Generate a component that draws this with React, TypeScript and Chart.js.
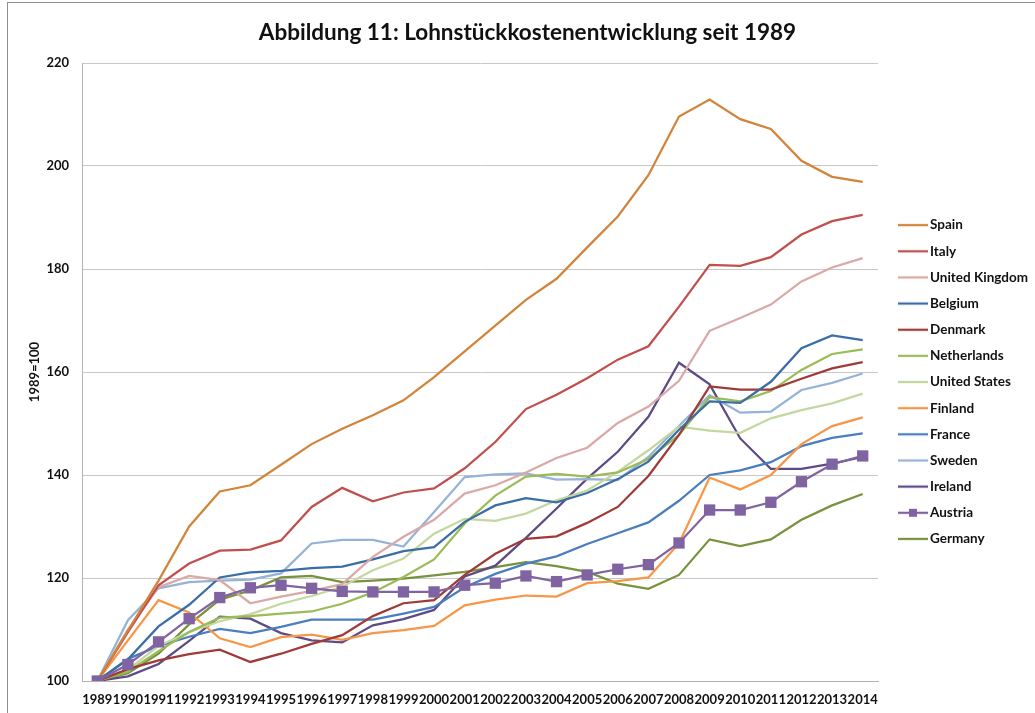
import React, { useEffect, useRef } from 'react';
import { Chart, registerables } from 'chart.js';

Chart.register(...registerables);

const years = ['1989', '1990', '1991', '1992', '1993', '1994', '1995', '1996', '1997', '1998', '1999', '2000', '2001', '2002', '2003', '2004', '2005', '2006', '2007', '2008', '2009', '2010', '2011', '2012', '2013', '2014'];

const spain = [100, 109.8, 119.5, 130, 136.8, 138, 142, 146, 149, 151.6, 154.5, 159, 164, 169, 174, 178.1, 184.2, 190.2, 198.2, 209.6, 212.9, 209.1, 207.2, 201, 197.9, 196.9];
const italy = [100, 109.5, 118.6, 122.8, 125.3, 125.5, 127.3, 133.8, 137.5, 134.9, 136.6, 137.4, 141.3, 146.4, 152.8, 155.6, 158.8, 162.4, 165, 172.7, 180.8, 180.6, 182.3, 186.7, 189.3, 190.5];
const unitedKingdom = [100, 110, 118.2, 120.4, 119.6, 115.1, 116.4, 117.5, 118.8, 124.1, 128, 131.3, 136.4, 138, 140.5, 143.3, 145.3, 150.1, 153.3, 158.3, 168, 170.5, 173.1, 177.6, 180.3, 182.1];
const belgium = [100, 104.2, 110.6, 114.8, 120.1, 121.1, 121.4, 121.9, 122.2, 123.6, 125.2, 126, 130.9, 134.1, 135.5, 134.7, 136.5, 139.2, 142.6, 148.8, 154.3, 154, 158.1, 164.6, 167.1, 166.2];
const denmark = [100, 102.3, 104, 105.2, 106.1, 103.7, 105.3, 107.2, 108.9, 112.6, 115.1, 115.7, 120.6, 124.7, 127.6, 128.1, 130.7, 133.8, 139.8, 147.8, 157.2, 156.6, 156.6, 158.7, 160.7, 161.9];
const netherlands = [100, 101.8, 105.8, 109.5, 112.3, 112.6, 113.1, 113.5, 115, 117.2, 120.2, 123.6, 130.6, 136, 139.7, 140.2, 139.7, 140.5, 143.1, 147.8, 155.1, 154.3, 156.3, 160.4, 163.5, 164.4];
const unitedStates = [100, 102.2, 106.8, 109.5, 111.6, 113, 115, 116.5, 118.3, 121.5, 123.8, 128.6, 131.5, 131.1, 132.5, 135.1, 137, 140.6, 144.8, 149.4, 148.6, 148.2, 151, 152.6, 153.9, 155.8];
const finland = [100, 107.9, 115.7, 113.3, 108.3, 106.6, 108.5, 109, 108, 109.3, 109.9, 110.7, 114.7, 115.8, 116.6, 116.4, 119, 119.4, 120.1, 126.7, 139.5, 137.2, 140, 146, 149.5, 151.2];
const france = [100, 104.3, 106.8, 108.6, 110.1, 109.3, 110.5, 111.9, 111.9, 111.9, 113.1, 114.4, 118.2, 120.8, 122.8, 124.2, 126.6, 128.7, 130.8, 135, 140, 140.9, 142.5, 145.6, 147.2, 148.1];
const sweden = [100, 111.8, 118, 119.2, 119.5, 119.7, 120.9, 126.7, 127.4, 127.4, 126.1, 132.8, 139.6, 140.1, 140.3, 139.1, 139.2, 139, 143.5, 149.5, 155.5, 152.1, 152.3, 156.5, 157.9, 159.7];
const ireland = [100, 100.9, 103.3, 107.8, 112.5, 112.1, 109.3, 107.9, 107.5, 110.8, 112, 113.8, 120.3, 122.4, 127.8, 133.5, 139.3, 144.5, 151.3, 161.8, 157.6, 147.1, 141.2, 141.2, 142.2, 143.5];
const austria = [100, 103.2, 107.6, 112.1, 116.2, 118.1, 118.6, 118, 117.4, 117.3, 117.3, 117.3, 118.6, 119, 120.4, 119.3, 120.6, 121.7, 122.6, 126.8, 133.2, 133.2, 134.7, 138.7, 142.1, 143.7];
const germany = [100, 101.5, 105.3, 111, 115.8, 117.6, 120.1, 120.4, 119.2, 119.5, 119.9, 120.5, 121.2, 122.1, 123.1, 122.3, 121.2, 118.9, 117.9, 120.6, 127.5, 126.2, 127.5, 131.3, 134.1, 136.3];

const seriesNames = ['Spain', 'Italy', 'United Kingdom', 'Belgium', 'Denmark', 'Netherlands', 'United States', 'Finland', 'France', 'Sweden', 'Ireland', 'Austria', 'Germany'];
const seriesValues = [spain, italy, unitedKingdom, belgium, denmark, netherlands, unitedStates, finland, france, sweden, ireland, austria, germany];
const seriesColors = ['#D2843A', '#C0504D', '#DAA8A7', '#3A6EA5', '#A03A37', '#9BBB59', '#C4D79E', '#F79646', '#4A7EBF', '#95B3D7', '#5E4B86', '#8064A2', '#77933C'];
const markerSeries = 'Austria';

const yTicks = [100, 120, 140, 160, 180, 200, 220];

const FONT = 'Lato, "Open Sans", "DejaVu Sans", sans-serif';

function makeLegendSample(color: string, marker: boolean): HTMLCanvasElement {
  const c = document.createElement('canvas');
  c.width = 46;
  c.height = 12;
  const ctx = c.getContext('2d')!;
  ctx.strokeStyle = color;
  ctx.lineWidth = 2.25;
  ctx.beginPath();
  ctx.moveTo(14, 6);
  ctx.lineTo(44, 6);
  ctx.stroke();
  if (marker) {
    ctx.fillStyle = color;
    ctx.fillRect(25, 2, 8, 8);
  }
  return c;
}

const CANVAS_W = 1035;
const CANVAS_H = 713;
const AREA_LEFT = 82;
const AREA_RIGHT = 878;
const AREA_BOTTOM = 681;
const PAD_LEFT = 20;

export default function App() {
  const canvasRef = useRef<HTMLCanvasElement | null>(null);

  useEffect(() => {
    if (!canvasRef.current) return;
    const samples = seriesNames.map((n, i) => makeLegendSample(seriesColors[i], n === markerSeries));

    const legendWidthPlugin = {
      id: 'legendWidthFix',
      beforeLayout(chart: any) {
        const lg = chart.legend;
        if (lg && !lg.__patched) {
          const orig = lg.fit.bind(lg);
          lg.fit = function () {
            orig();
            this.width = CANVAS_W - AREA_RIGHT;
          };
          lg.__patched = true;
        }
      },
    };

    const datasets = seriesNames.map((name, i) => {
      const isMarker = name === markerSeries;
      return {
        label: name,
        data: seriesValues[i],
        borderColor: seriesColors[i],
        backgroundColor: seriesColors[i],
        borderWidth: 2.25,
        pointRadius: isMarker ? 8 : 0,
        pointHoverRadius: isMarker ? 8 : 0,
        pointStyle: 'rect',
        pointBackgroundColor: seriesColors[i],
        pointBorderColor: seriesColors[i],
        pointBorderWidth: 0,
        tension: 0,
        fill: false,
        order: isMarker ? -1 : 0,
      };
    });

    const chart = new Chart(canvasRef.current, {
      type: 'line',
      data: { labels: years, datasets },
      plugins: [legendWidthPlugin],
      options: {
        responsive: false,
        animation: false,
        events: [],
        layout: { padding: { left: PAD_LEFT, right: 0, top: 0, bottom: 0 } },
        plugins: {
          title: {
            display: true,
            text: 'Abbildung 11: Lohnstückkostenentwicklung seit 1989',
            color: '#111111',
            font: { family: FONT, size: 22.5, weight: 'bold' },
            padding: { top: 19.5, bottom: 16.5 },
          },
          legend: {
            display: true,
            position: 'right',
            align: 'center',
            fullSize: false,
            title: { display: true, text: '', padding: 0, font: { size: 16.67 } },
            labels: {
              usePointStyle: true,
              pointStyleWidth: 32.6,
              padding: 12.65,
              color: '#111111',
              font: { family: FONT, size: 13.5, weight: 'bold' },
              sort: (a: any, b: any) => a.datasetIndex - b.datasetIndex,
              generateLabels: (ch: any) => {
                const items = (Chart.defaults.plugins.legend.labels as any).generateLabels(ch);
                return items.map((it: any) => ({ ...it, pointStyle: samples[it.datasetIndex] }));
              },
            },
          },
          tooltip: { enabled: false },
        },
        scales: {
          x: {
            type: 'category',
            offset: true,
            grid: { display: true, color: 'rgba(0,0,0,0)', drawTicks: false },
            border: { display: true, color: '#B3B3B3', width: 1 },
            ticks: {
              autoSkip: false,
              maxRotation: 0,
              minRotation: 0,
              padding: 11,
              color: '#111111',
              font: { family: FONT, size: 13, weight: 'bold' },
            },
            afterFit: (scale: any) => {
              scale.height = CANVAS_H - AREA_BOTTOM;
            },
          },
          y: {
            min: 100,
            max: 220,
            afterBuildTicks: (scale: any) => {
              scale.ticks = yTicks.map((v) => ({ value: v }));
            },
            grid: { color: '#C8C8C8', lineWidth: 1, drawTicks: false },
            border: { display: true, color: '#B3B3B3', width: 1 },
            ticks: {
              padding: 13,
              color: '#111111',
              font: { family: FONT, size: 13, weight: 'bold' },
            },
            title: {
              display: true,
              text: '1989=100',
              color: '#111111',
              padding: { top: 7, bottom: 0 },
              font: { family: FONT, size: 13, weight: 'bold' },
            },
            afterFit: (scale: any) => {
              scale.width = AREA_LEFT - PAD_LEFT;
            },
          },
        },
      } as any,
    });

    return () => {
      chart.destroy();
    };
  }, []);

  return (
    <div style={{ position: 'absolute', left: 0, top: 0, width: CANVAS_W, height: CANVAS_H, overflow: 'hidden', background: '#ffffff' }}>
      <div style={{ position: 'absolute', left: 7, top: 2, width: CANVAS_W - 7, height: CANVAS_H - 2, borderLeft: '1px solid #8E8E8E', borderTop: '1px solid #8E8E8E', boxSizing: 'border-box' }} />
      <canvas ref={canvasRef} width={CANVAS_W} height={CANVAS_H} style={{ position: 'absolute', left: 0, top: 0, display: 'block' }} />
    </div>
  );
}
